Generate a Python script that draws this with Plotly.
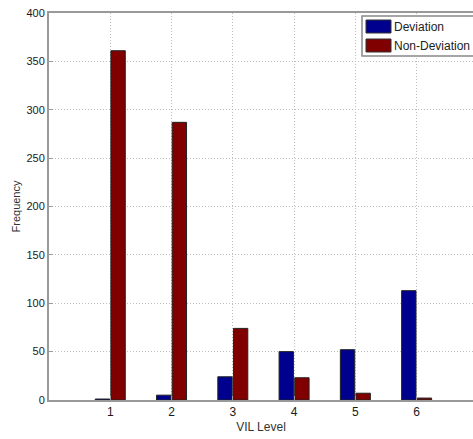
import plotly.graph_objects as go

levels = [1, 2, 3, 4, 5, 6]
deviation = [1, 5, 24, 50, 52, 113]
non_deviation = [361, 287, 74, 23, 7, 2]
series_names = ["Deviation", "Non-Deviation"]
colors = ["#00008f", "#800000"]

fig = go.Figure()
fig.add_trace(go.Bar(x=levels, y=deviation, name=series_names[0],
                     marker=dict(color=colors[0], line=dict(color="#222", width=1))))
fig.add_trace(go.Bar(x=levels, y=non_deviation, name=series_names[1],
                     marker=dict(color=colors[1], line=dict(color="#222", width=1))))

font = dict(family="Liberation Sans, Arial, sans-serif", size=11, color="#1a1a1a")
fig.update_layout(
    width=473, height=439,
    margin=dict(l=49, r=0, t=13, b=39),
    paper_bgcolor="white", plot_bgcolor="white",
    barmode="group", bargap=0.49, bargroupgap=0.08,
    showlegend=False,
    font=font,
)
fig.update_xaxes(
    range=[0, 6.92], tickvals=levels, ticktext=[str(v) for v in levels],
    showgrid=True, gridcolor="#bdbdbd", griddash="1px,2px", gridwidth=1,
    showline=True, linecolor="#999", linewidth=2, mirror=True,
    ticks="inside", ticklen=4, tickcolor="#999",
    tickfont=dict(size=12),
    title=dict(text="VIL Level", font=dict(size=12, color="#333"), standoff=4),
    zeroline=False,
)
fig.update_yaxes(
    range=[0, 400], tickvals=[0, 50, 100, 150, 200, 250, 300, 350, 400],
    showgrid=True, gridcolor="#bdbdbd", griddash="1px,2px", gridwidth=1,
    showline=True, linecolor="#999", linewidth=2,
    ticks="inside", ticklen=4, tickcolor="#999",
    tickfont=dict(size=11),
    title=dict(text="Frequency", font=dict(size=11, color="#333"), standoff=4),
    zeroline=False,
)

# manual legend (box with wide swatches)
lx0, ly0 = 362, 16
fig.add_shape(type="rect", xref="paper", yref="paper",
              x0=(lx0 - 49) / 424, x1=(480 - 49) / 424,
              y0=(400 - 56) / 387, y1=(400 - ly0) / 387,
              line=dict(color="#888", width=1.5), fillcolor="white", layer="above")
for i, (nm, c) in enumerate(zip(series_names, colors)):
    yc = 27 + i * 19
    fig.add_shape(type="rect", xref="paper", yref="paper",
                  x0=(366 - 49) / 424, x1=(391 - 49) / 424,
                  y0=(400 - (yc + 6)) / 387, y1=(400 - (yc - 7)) / 387,
                  line=dict(color="#333", width=1), fillcolor=c, layer="above")
    fig.add_annotation(xref="paper", yref="paper", x=(392 - 49) / 424, y=(400 - yc) / 387,
                       text=nm, showarrow=False, xanchor="left", yanchor="middle",
                       font=dict(size=12, color="#222"))

fig.write_html("out.html")
